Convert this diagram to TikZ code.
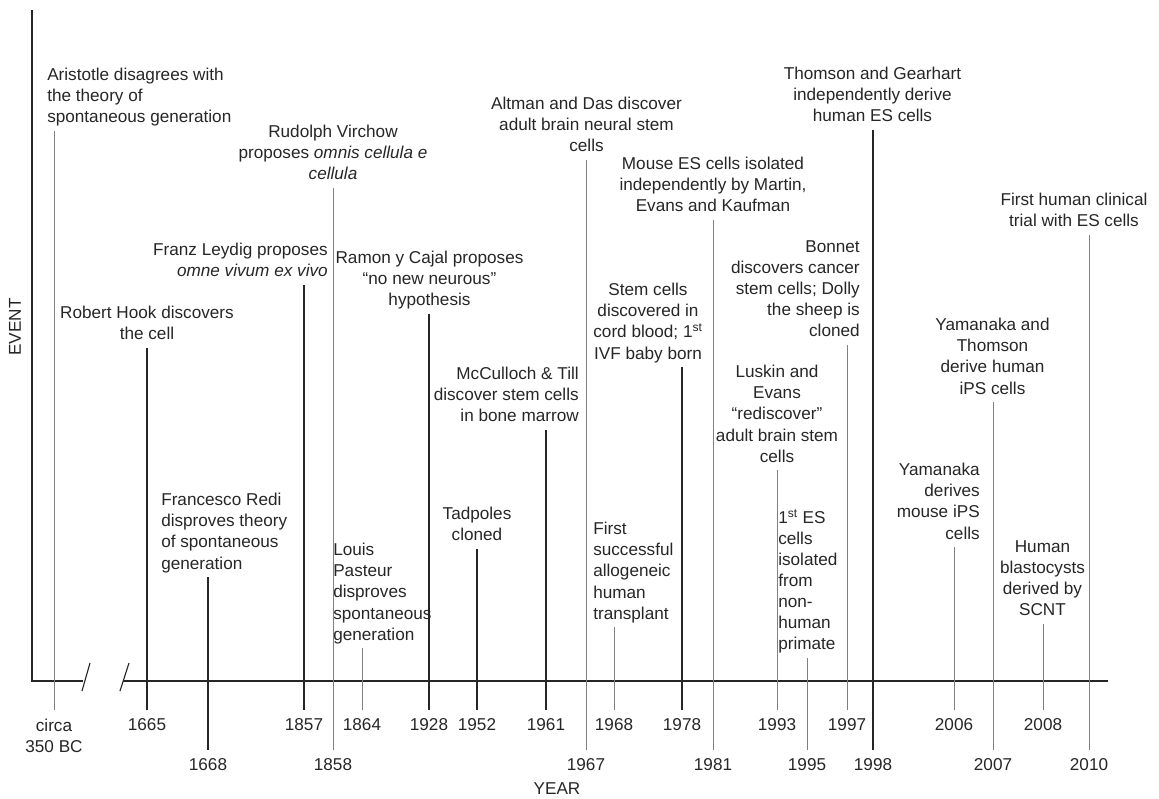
\documentclass[tikz,border=0pt]{standalone}
\usepackage{fontspec}
\setmainfont{Liberation Sans}
\newcommand{\stemgap}{\rule[-5.7pt]{0pt}{5.7pt}}
\begin{document}
\begin{tikzpicture}[x=0.025cm, y=-0.025cm,
  lbl/.style={inner sep=0, text=black!85, font=\fontsize{12.2}{15}\selectfont},
  evt/.style={lbl},
  yr/.style={lbl, anchor=north, outer ysep=6.4pt, align=center},
  dk/.style={black!85, line width=0.8pt},
  lt/.style={black!50, line width=0.7pt}]
\useasboundingbox (0,0) rectangle (1159,798);
% axes with break
\draw[dk, line width=0.9pt] (32,10) -- (32,681) -- (83,681);
\draw[dk, line width=0.9pt] (123,681) -- (1108,681);
\draw[dk] (82,691) -- (90,663);
\draw[dk] (120,691) -- (129,663);
\node[lbl, rotate=90] (evlab) at (15,327) {EVENT};
\node[lbl] (yearlab) at (557,789) {YEAR};
% events
\node[evt, align=left, anchor=north west] (ev350) at (47,68) {Aristotle disagrees with\\the theory of\\spontaneous generation\stemgap};
\node[evt, align=center, anchor=north] (ev1665) at (147,306) {Robert Hook discovers\\the cell\stemgap};
\node[evt, align=left, anchor=north west] (ev1668) at (161,493) {Francesco Redi\\disproves theory\\of spontaneous\\generation\stemgap};
\node[evt, align=right, anchor=north east] (ev1857) at (328,243) {Franz Leydig proposes\\\textit{omne vivum ex vivo}\stemgap};
\node[evt, align=center, anchor=north] (ev1858) at (333,125) {Rudolph Virchow\\proposes \textit{omnis cellula e}\\\textit{cellula}\stemgap};
\node[evt, align=left, anchor=north west] (ev1864) at (333,543) {Louis\\Pasteur\\disproves\\spontaneous\\generation\stemgap};
\node[evt, align=center, anchor=north] (ev1928) at (429.5,251) {Ramon y Cajal proposes\\“no new neurous”\\hypothesis\stemgap};
\node[evt, align=center, anchor=north] (ev1952) at (477,507) {Tadpoles\\cloned\stemgap};
\node[evt, align=right, anchor=north east] (ev1961) at (579,367) {McCulloch \& Till\\discover stem cells\\in bone marrow\stemgap};
\node[evt, align=center, anchor=north] (ev1967) at (586.5,97) {Altman and Das discover\\adult brain neural stem\\cells\stemgap};
\node[evt, align=left, anchor=north west] (ev1968) at (593,522) {First\\successful\\allogeneic\\human\\transplant\stemgap};
\node[evt, align=center, anchor=north] (ev1978) at (648,283) {Stem cells\\discovered in\\cord blood; 1\textsuperscript{st}\\IVF baby born\stemgap};
\node[evt, align=center, anchor=north] (ev1981) at (713,157) {Mouse ES cells isolated\\independently by Martin,\\Evans and Kaufman\stemgap};
\node[evt, align=center, anchor=north] (ev1993) at (777,365) {Luskin and\\Evans\\“rediscover”\\adult brain stem\\cells\stemgap};
\node[evt, align=left, anchor=north west] (ev1995) at (778,509) {1\textsuperscript{st} ES\\cells\\isolated\\from\\non-\\human\\primate\stemgap};
\node[evt, align=right, anchor=north east] (ev1997) at (860,240) {Bonnet\\discovers cancer\\stem cells; Dolly\\the sheep is\\cloned\stemgap};
\node[evt, align=center, anchor=north] (ev1998) at (872.5,67) {Thomson and Gearhart\\independently derive\\human ES cells\stemgap};
\node[evt, align=right, anchor=north east] (ev2006) at (980,463) {Yamanaka\\derives\\mouse iPS\\cells\stemgap};
\node[evt, align=center, anchor=north] (ev2007) at (992.5,318) {Yamanaka and\\Thomson\\derive human\\iPS cells\stemgap};
\node[evt, align=center, anchor=north] (ev2008) at (1042.5,540) {Human\\blastocysts\\derived by\\SCNT\stemgap};
\node[evt, align=center, anchor=north] (ev2010) at (1074,193) {First human clinical\\trial with ES cells\stemgap};
% years
\node[yr] (y350) at (54,710) {circa\\350 BC};
\node[yr] (y1665) at (147,710) {1665};
\node[yr] (y1668) at (208,750) {1668};
\node[yr] (y1857) at (304,710) {1857};
\node[yr] (y1858) at (333,750) {1858};
\node[yr] (y1864) at (362,710) {1864};
\node[yr] (y1928) at (429,710) {1928};
\node[yr] (y1952) at (477,710) {1952};
\node[yr] (y1961) at (546,710) {1961};
\node[yr] (y1967) at (586,750) {1967};
\node[yr] (y1968) at (614,710) {1968};
\node[yr] (y1978) at (682,710) {1978};
\node[yr] (y1981) at (713,750) {1981};
\node[yr] (y1993) at (777,710) {1993};
\node[yr] (y1995) at (807,750) {1995};
\node[yr] (y1997) at (847,710) {1997};
\node[yr] (y1998) at (873,750) {1998};
\node[yr] (y2006) at (954,710) {2006};
\node[yr] (y2007) at (993,750) {2007};
\node[yr] (y2008) at (1043,710) {2008};
\node[yr] (y2010) at (1089,750) {2010};
% stems
\draw[lt] (y350.north) -- (y350.north |- ev350.south);
\draw[dk] (y1665.north) -- (y1665.north |- ev1665.south);
\draw[dk] (y1668.north) -- (y1668.north |- ev1668.south);
\draw[dk] (y1857.north) -- (y1857.north |- ev1857.south);
\draw[lt] (y1858.north) -- (y1858.north |- ev1858.south);
\draw[lt] (y1864.north) -- (y1864.north |- ev1864.south);
\draw[dk] (y1928.north) -- (y1928.north |- ev1928.south);
\draw[dk] (y1952.north) -- (y1952.north |- ev1952.south);
\draw[dk] (y1961.north) -- (y1961.north |- ev1961.south);
\draw[lt] (y1967.north) -- (y1967.north |- ev1967.south);
\draw[lt] (y1968.north) -- (y1968.north |- ev1968.south);
\draw[dk] (y1978.north) -- (y1978.north |- ev1978.south);
\draw[lt] (y1981.north) -- (y1981.north |- ev1981.south);
\draw[lt] (y1993.north) -- (y1993.north |- ev1993.south);
\draw[lt] (y1995.north) -- (y1995.north |- ev1995.south);
\draw[lt] (y1997.north) -- (y1997.north |- ev1997.south);
\draw[dk] (y1998.north) -- (y1998.north |- ev1998.south);
\draw[lt] (y2006.north) -- (y2006.north |- ev2006.south);
\draw[lt] (y2007.north) -- (y2007.north |- ev2007.south);
\draw[lt] (y2008.north) -- (y2008.north |- ev2008.south);
\draw[lt] (y2010.north) -- (y2010.north |- ev2010.south);
\end{tikzpicture}
\end{document}
